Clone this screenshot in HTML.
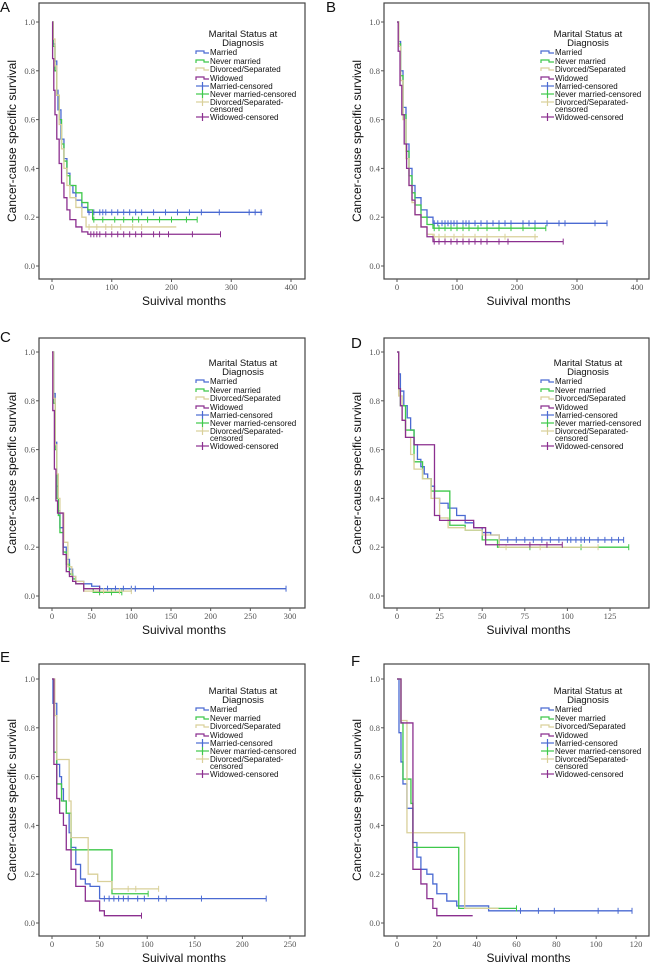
<!DOCTYPE html>
<html><head><meta charset="utf-8">
<style>
html,body{margin:0;padding:0;background:#fff;}
svg{display:block;}
.tk{font-family:"Liberation Serif",serif;font-size:8.5px;fill:#555;}
.tt{font-family:"Liberation Sans",sans-serif;font-size:12px;fill:#111;}
.lg{font-family:"Liberation Sans",sans-serif;font-size:8px;fill:#111;}
.lgt{font-family:"Liberation Sans",sans-serif;font-size:9.5px;fill:#111;}
.pl{font-family:"Liberation Sans",sans-serif;font-size:15px;fill:#111;}
</style></head>
<body>
<svg id="fig" width="650" height="963" viewBox="0 0 650 963" xmlns="http://www.w3.org/2000/svg"></svg>
<script>
// ---- Panel A data ----
const aMarriedT=[0,2,5,8,10,15,20,25,30,35,40,50,60,352];
const aMarriedS=[1,.91,.84,.72,.64,.52,.44,.38,.33,.30,.27,.24,.22];
const aMarriedC=[62,70,80,85,90,100,110,120,130,140,150,170,190,210,230,250,280,330,340,350];
const aNeverT=[0,2,5,8,12,16,20,25,30,40,50,60,68,243];
const aNeverS=[1,.90,.80,.70,.60,.50,.43,.37,.33,.30,.26,.23,.19];
const aNeverC=[70,85,105,120,135,145,160,180,200,225,243];
const aDivT=[0,2,5,8,12,16,20,25,30,40,50,57,208];
const aDivS=[1,.93,.82,.70,.58,.48,.40,.33,.28,.24,.20,.16];
const aDivC=[62,75,90,100,115,135,150];
const aWidT=[0,1,3,5,8,12,16,20,25,30,40,50,60,282];
const aWidS=[1,.85,.72,.62,.52,.42,.34,.28,.23,.19,.16,.14,.13];
const aWidC=[65,70,75,80,90,100,110,120,130,140,150,170,180,195,235,282];
// ---- Panel B data ----
const bMarriedT=[0,3,6,10,15,20,25,30,40,50,60,351];
const bMarriedS=[1,.92,.80,.65,.50,.40,.33,.28,.23,.20,.175];
const bMarriedC=[62,68,75,80,85,90,95,100,110,115,120,130,140,150,160,170,180,190,210,220,230,250,270,280,330,350];
const bNeverT=[0,3,6,10,15,20,25,30,40,50,60,248];
const bNeverS=[1,.91,.78,.62,.47,.37,.30,.25,.20,.17,.155];
const bNeverC=[62,70,80,90,100,110,120,135,150,170,190,210,230,248];
const bDivT=[0,3,6,10,15,20,25,30,40,50,60,235];
const bDivS=[1,.90,.76,.60,.44,.33,.26,.21,.16,.13,.12];
const bDivC=[62,70,80,95,110,130,150,180,230];
const bWidT=[0,2,5,8,12,16,20,25,30,40,50,60,277];
const bWidS=[1,.88,.74,.62,.50,.40,.33,.27,.21,.16,.12,.10];
const bWidC=[62,70,80,90,100,110,120,130,140,150,170,185,277];
// ---- Panel C data ----
const cMarriedT=[0,2,4,6,8,10,14,18,22,26,30,40,50,60,295];
const cMarriedS=[1,.83,.63,.45,.35,.28,.20,.15,.11,.08,.06,.05,.04,.03];
const cMarriedC=[60,70,80,90,100,105,128,295];
const cNeverT=[0,2,4,6,8,10,14,18,22,26,30,40,52,88];
const cNeverS=[1,.79,.60,.40,.33,.26,.18,.13,.09,.07,.05,.03,.015];
const cNeverC=[60,75,88];
const cDivT=[0,2,4,6,8,10,15,20,25,30,40,100];
const cDivS=[1,.81,.62,.50,.40,.34,.22,.12,.08,.06,.02];
const cDivC=[65,85,100];
const cWidT=[0,1,3,5,7,9,14,18,22,26,30,40,60];
const cWidS=[1,.76,.52,.39,.34,.34,.17,.10,.08,.06,.05,.03];
const cWidC=[40,60];
// ---- Panel D data ----
const dMarriedT=[0,1,2,4,6,8,10,12,14,16,18,20,22,25,30,35,40,45,50,55,60,133];
const dMarriedS=[1,.91,.84,.78,.73,.68,.62,.56,.53,.50,.48,.45,.40,.38,.36,.33,.30,.28,.26,.25,.23];
const dMarriedC=[60,65,70,75,80,85,90,95,100,102,105,108,110,113,118,122,126,130,133];
const dNeverT=[0,1,2,5,10,15,20,31,40,50,59,136];
const dNeverS=[1,.85,.78,.68,.55,.48,.43,.29,.27,.23,.20];
const dNeverC=[78,108,136];
const dDivT=[0,1,3,5,8,10,15,20,25,30,40,50,60,118];
const dDivS=[1,.82,.72,.65,.58,.52,.48,.40,.32,.28,.27,.25,.20];
const dDivC=[64,84,118];
const dWidT=[0,1,2,3,5,10,22,25,45,52,66,97];
const dWidS=[1,.85,.78,.72,.65,.62,.33,.31,.28,.21,.21];
const dWidC=[78,88,97];
// ---- Panel E data ----
const eMarriedT=[0,1,5,8,10,12,15,18,20,25,30,35,40,50,225];
const eMarriedS=[1,.9,.65,.60,.55,.50,.45,.37,.31,.24,.18,.16,.15,.10];
const eMarriedC=[55,60,65,70,75,80,90,97,112,120,157,225];
const eNeverT=[0,2,5,10,15,20,63,101];
const eNeverS=[1,.70,.57,.50,.45,.30,.12];
const eNeverC=[101];
const eDivT=[0,3,5,18,20,38,48,63,112];
const eDivS=[1,.85,.67,.50,.35,.20,.17,.14];
const eDivC=[80,88,112];
const eWidT=[0,2,5,8,12,15,20,25,35,50,55,94];
const eWidS=[1,.65,.51,.45,.40,.30,.22,.15,.09,.05,.03];
const eWidC=[94];
// ---- Panel F data ----
const fMarriedT=[0,1,2,3,5,8,10,12,15,18,20,25,30,46,118];
const fMarriedS=[1,.78,.66,.57,.47,.33,.27,.22,.20,.16,.12,.09,.07,.05];
const fMarriedC=[62,71,79,101,111,118];
const fNeverT=[0,2,3,7,8,12,16,22,29,31,60];
const fNeverS=[1,.82,.59,.49,.31,.31,.31,.31,.31,.06];
const fNeverC=[60];
const fDivT=[0,2,5,34,51];
const fDivS=[1,.83,.37,.06];
const fDivC=[];
const fWidT=[0,2,8,12,15,18,20,38];
const fWidS=[1,.82,.22,.16,.10,.06,.03];
const fWidC=[];

const xTicksA=[0,100,200,300,400];
const xTicksC=[0,50,100,150,200,250,300];
const xTicksD=[0,25,50,75,100,125];
const xTicksE=[0,50,100,150,200,250];
const xTicksF=[0,20,40,60,80,100,120];
const yTicks=[0,0.2,0.4,0.6,0.8,1.0];
const seriesNames=["married","never-married","divorced-separated","widowed"];
const legendLabels=["Married","Never married","Divorced/Separated","Widowed","Married-censored","Never married-censored","Divorced/Separated-","Widowed-censored"];
const colors=["#4a6ad2","#3ec84a","#d9d09a","#8b2f8f"];

const NS="http://www.w3.org/2000/svg";
const svg=document.getElementById('fig');
function mk(tag,attrs,parent){const e=document.createElementNS(NS,tag);for(const k in attrs)e.setAttribute(k,attrs[k]);(parent||svg).appendChild(e);return e;}

function panel(p){
  const g=mk('g',{});
  
  
  const xs=v=>p.x0+(v-p.xmin)/(p.xmax-p.xmin)*(p.x1-p.x0);
  const ys=v=>p.y0+(v)*(p.y1-p.y0);
  const lab=mk('text',{x:p.lx,y:p.ly,class:'pl'},g);lab.textContent=p.id;
  
  
  const fr=mk('rect',{x:p.fl,y:p.ft,width:p.fr-p.fl,height:p.fb-p.ft,fill:'none',stroke:'#444','stroke-width':1.2},g);
  
  
  yTicks.forEach(v=>{
    const y=ys(v);
    mk('line',{x1:p.fl-3,x2:p.fl,y1:y,y2:y,stroke:'#555'},g);
    const t=mk('text',{x:p.fl-4,y:y+3,class:'tk','text-anchor':'end'},g);t.textContent=v.toFixed(1);
    
    
  });
  p.xt.forEach(v=>{
    const x=xs(v);
    mk('line',{x1:x,x2:x,y1:p.fb,y2:p.fb+3,stroke:'#555'},g);
    const t=mk('text',{x:x,y:p.fb+11,class:'tk','text-anchor':'middle'},g);t.textContent=v;
    
    
  });
  const xt=mk('text',{x:(p.fl+p.fr)/2+12,y:p.fb+26,class:'tt','text-anchor':'middle'},g);xt.textContent='Suivival months';
  
  
  const ty=(p.ft+p.fb)/2, tx=p.fl-23;
  const yt=mk('text',{x:tx,y:ty,class:'tt','text-anchor':'middle',transform:`rotate(-90 ${tx} ${ty})`},g);yt.textContent='Cancer-cause specific survival';
  
  
  p.series.forEach((s,i)=>{
    let d=`M${xs(s.t[0])},${ys(s.s[0])}`;
    for(let k=1;k<s.t.length;k++){
      d+=` H${xs(s.t[k])}`;
      if(k<s.s.length) d+=` V${ys(s.s[k])}`;
    }
    const path=mk('path',{d:d,fill:'none',stroke:colors[i],'stroke-width':1.3},g);
    
    
    s.c.forEach(ct=>{
      let k=0;while(k+1<s.t.length-1&&s.t[k+1]<=ct)k++;
      const sv=s.s[Math.min(k,s.s.length-1)];
      const m=mk('line',{x1:xs(ct),x2:xs(ct),y1:ys(sv)-3,y2:ys(sv)+3,stroke:colors[i],'stroke-width':1},g);
      
      
    });
  });
  const lg=mk('g',{},g);
  
  
  const L=p.lgx, T=p.lgy;
  const t1=mk('text',{x:L+47,y:T,class:'lgt','text-anchor':'middle'},lg);t1.textContent='Marital Status at';
  const t2=mk('text',{x:L+47,y:T+9,class:'lgt','text-anchor':'middle'},lg);t2.textContent='Diagnosis';
  
  
  const rows=[T+18,T+27,T+35,T+44,T+52,T+60,T+68,T+83];
  legendLabels.forEach((lbl,j)=>{
    const y=rows[j], c=colors[j%4];
    if(j<4){
      mk('path',{d:`M${L},${y-1} V${y-4} H${L+8} V${y-2} H${L+13}`,fill:'none',stroke:c,'stroke-width':1.2},lg);
    }else{
      mk('line',{x1:L,x2:L+13,y1:y-3,y2:y-3,stroke:c,'stroke-width':1.2},lg);
      mk('line',{x1:L+6.5,x2:L+6.5,y1:y-7,y2:y+1,stroke:c,'stroke-width':1.2},lg);
    }
    const t=mk('text',{x:L+14,y:y,class:'lg'},lg);t.textContent=lbl;
    
    
    if(j==6){const t3=mk('text',{x:L+14,y:y+7,class:'lg'},lg);t3.textContent='censored';}
  });
}

function S(t,s,c){return {t:t,s:s,c:c};}
const row1={ft:3,fb:279,y0:266,y1:22};
const row2={ft:338,fb:608,y0:596,y1:352};
const row3={ft:664,fb:936,y0:923,y1:679};
panel(Object.assign({id:'A',lx:0,ly:12,fl:39,fr:305,x0:52,x1:291,xmin:0,xmax:400,xt:xTicksA,lgx:196,lgy:37,
  series:[S(aMarriedT,aMarriedS,aMarriedC),S(aNeverT,aNeverS,aNeverC),S(aDivT,aDivS,aDivC),S(aWidT,aWidS,aWidC)]},row1));
panel(Object.assign({id:'B',lx:326,ly:12,fl:384,fr:649,x0:397,x1:637,xmin:0,xmax:400,xt:xTicksA,lgx:541,lgy:37,
  series:[S(bMarriedT,bMarriedS,bMarriedC),S(bNeverT,bNeverS,bNeverC),S(bDivT,bDivS,bDivC),S(bWidT,bWidS,bWidC)]},row1));
panel(Object.assign({id:'C',lx:0,ly:342,fl:39,fr:305,x0:52,x1:290,xmin:0,xmax:300,xt:xTicksC,lgx:196,lgy:366,
  series:[S(cMarriedT,cMarriedS,cMarriedC),S(cNeverT,cNeverS,cNeverC),S(cDivT,cDivS,cDivC),S(cWidT,cWidS,cWidC)]},row2));
panel(Object.assign({id:'D',lx:351,ly:348,fl:384,fr:649,x0:397,x1:610,xmin:0,xmax:125,xt:xTicksD,lgx:541,lgy:366,
  series:[S(dMarriedT,dMarriedS,dMarriedC),S(dNeverT,dNeverS,dNeverC),S(dDivT,dDivS,dDivC),S(dWidT,dWidS,dWidC)]},row2));
panel(Object.assign({id:'E',lx:0,ly:662,fl:39,fr:305,x0:52,x1:290,xmin:0,xmax:250,xt:xTicksE,lgx:196,lgy:694,
  series:[S(eMarriedT,eMarriedS,eMarriedC),S(eNeverT,eNeverS,eNeverC),S(eDivT,eDivS,eDivC),S(eWidT,eWidS,eWidC)]},row3));
panel(Object.assign({id:'F',lx:351,ly:666,fl:384,fr:649,x0:397,x1:636,xmin:0,xmax:120,xt:xTicksF,lgx:541,lgy:694,
  series:[S(fMarriedT,fMarriedS,fMarriedC),S(fNeverT,fNeverS,fNeverC),S(fDivT,fDivS,fDivC),S(fWidT,fWidS,fWidC)]},row3));
</script>
</body></html>
